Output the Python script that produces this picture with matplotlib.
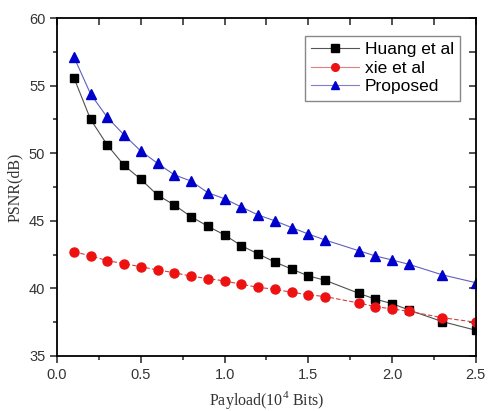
import matplotlib
matplotlib.use("Agg")
import matplotlib.pyplot as plt
from matplotlib.ticker import MultipleLocator

plt.rcParams['mathtext.fontset'] = 'custom'
plt.rcParams['mathtext.rm'] = 'Liberation Serif'

payload = [0.1, 0.2, 0.3, 0.4, 0.5, 0.6, 0.7, 0.8, 0.9, 1.0, 1.1, 1.2, 1.3, 1.4, 1.5, 1.6, 1.8, 1.9, 2.0, 2.1, 2.3, 2.5]
huang = [55.6, 52.5, 50.6, 49.1, 48.07, 46.9, 46.17, 45.3, 44.6, 43.95, 43.16, 42.55, 41.95, 41.43, 40.92, 40.6, 39.64, 39.2, 38.87, 38.4, 37.54, 36.9]
xie = [42.72, 42.4, 42.05, 41.83, 41.6, 41.36, 41.16, 40.9, 40.72, 40.55, 40.3, 40.08, 39.93, 39.71, 39.53, 39.39, 38.92, 38.65, 38.48, 38.3, 37.83, 37.49]
proposed = [57.14, 54.38, 52.65, 51.35, 50.16, 49.25, 48.4, 47.94, 47.08, 46.63, 46.02, 45.43, 45.0, 44.5, 44.02, 43.58, 42.79, 42.4, 42.1, 41.78, 41.0, 40.42]

fig = plt.figure(figsize=(4.88, 4.11), dpi=100)
ax = fig.add_axes([0.117, 0.134, 0.858, 0.822])

ax.plot(payload, huang, color='#505050', lw=0.8, marker='s', ms=6, mfc='black', mec='black', label='Huang et al')
ax.plot(payload, xie, color='#d04040', lw=0.8, ls=(0, (4, 2)), marker='o', ms=6.5, mfc='#ee1111', mec='#ee1111', label='xie et al')
ax.plot(payload, proposed, color='#6060c0', lw=0.8, marker='^', ms=7, mfc='#0000cc', mec='#0000cc', label='Proposed')

ax.set_xlim(0.0, 2.5)
ax.set_ylim(35, 60)
ax.xaxis.set_major_locator(MultipleLocator(0.5))
ax.xaxis.set_minor_locator(MultipleLocator(0.25))
ax.yaxis.set_major_locator(MultipleLocator(5))
ax.yaxis.set_minor_locator(MultipleLocator(2.5))

for s in ax.spines.values():
    s.set_linewidth(1.3)

tickfont = 'Liberation Sans'
ax.tick_params(axis='both', which='both', direction='out', top=True, right=True, width=1.1, labelsize=10.5, colors='#222222')
ax.tick_params(axis='both', which='major', length=5)
ax.tick_params(axis='both', which='minor', length=3)
for lab in ax.get_xticklabels() + ax.get_yticklabels():
    lab.set_family(tickfont)
    lab.set_color('#333333')
for t in ax.xaxis.get_major_ticks() + ax.xaxis.get_minor_ticks():
    t.tick2line.set_marker(3)  # inward at top
    t.tick2line.set_markersize(5)
for t in ax.yaxis.get_major_ticks() + ax.yaxis.get_minor_ticks():
    t.tick2line.set_marker(0)  # inward at right
    t.tick2line.set_markersize(5)

ax.set_xlabel('Payload(10$^{\\mathrm{4}}$ Bits)', family='Liberation Serif', fontsize=11.5, labelpad=5, color='#333333')
ax.set_ylabel('PSNR(dB)', family='Liberation Serif', fontsize=11.5, labelpad=4, color='#333333')

leg = ax.legend(loc='upper right', bbox_to_anchor=(0.962, 0.947), prop={'family': 'Liberation Sans', 'size': 12.5},
                frameon=True, fancybox=False, edgecolor='#888888', framealpha=1, handlelength=2.8,
                borderpad=0.35, labelspacing=0.2, handletextpad=0.3, borderaxespad=0)
leg.get_frame().set_linewidth(1.0)
for line in leg.get_lines():
    line.set_linestyle('-')
    line.set_markersize(5.5)
leg.get_lines()[0].set_color('#555555')
leg.get_lines()[1].set_color('#e08080')
leg.get_lines()[2].set_color('#8080d0')

fig.savefig('out.png', dpi=100)
